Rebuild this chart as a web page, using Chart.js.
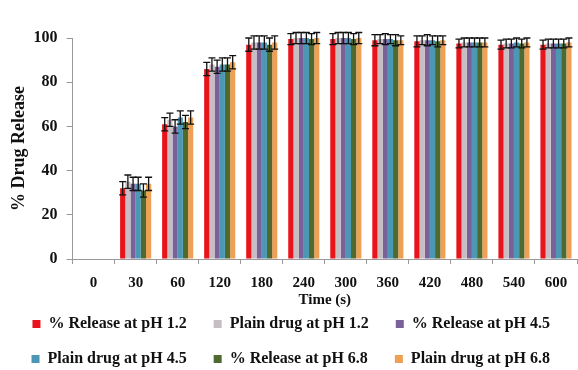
<!DOCTYPE html>
<html>
<head>
<meta charset="utf-8">
<script src="https://cdn.jsdelivr.net/npm/chart.js@4"></script>
<style>
  html, body { margin: 0; padding: 0; background: #fff; }
  #wrap { width: 578px; height: 370px; }
</style>
</head>
<body>
<div id="wrap"><canvas id="releaseChart"></canvas></div>
<script>
const categories = ['0', '30', '60', '120', '180', '240', '300', '360', '420', '480', '540', '600'];

const relPh12   = [0, 32, 61, 86, 97, 99.5, 99.5, 99, 98.5, 97.5, 97, 97];
const plainPh12 = [0, 35, 63, 88, 98, 100, 100, 99.5, 99, 98, 97.5, 97.5];
const relPh45   = [0, 34, 60, 87, 98, 100, 100, 99.5, 99, 98, 97.5, 97.5];
const plainPh45 = [0, 34, 64, 88, 98, 100, 100, 99.5, 99, 98, 98, 97.5];
const relPh68   = [0, 31, 62, 88, 97, 99.5, 99.5, 99, 98.5, 98, 97.5, 97.5];
const plainPh68 = [0, 34, 64, 89, 98, 100, 100, 99, 99, 98, 98, 98];

const errRel   = [0, 3, 3, 3, 3, 2.5, 2.5, 2.5, 2.5, 2, 2, 2];
const errPlain = [0, 3, 3, 3, 3, 2.5, 2.5, 2, 2, 2, 2, 2];

const yTicks = [0, 20, 40, 60, 80, 100];

const FONT = '"Liberation Serif", "Times New Roman", serif';

// draws the +/- error whiskers on top of each bar
const errorBars = {
  id: 'errorBars',
  afterDatasetsDraw(chart) {
    const ctx = chart.ctx;
    const y = chart.scales.y;
    ctx.save();
    ctx.strokeStyle = '#111';
    ctx.lineWidth = 1.3;
    chart.data.datasets.forEach((ds, i) => {
      const meta = chart.getDatasetMeta(i);
      meta.data.forEach((bar, j) => {
        const v = ds.data[j];
        const e = ds.errors[j];
        if (!e) return;
        const top = y.getPixelForValue(v + e);
        const bot = y.getPixelForValue(v - e);
        ctx.beginPath();
        ctx.moveTo(bar.x, top);
        ctx.lineTo(bar.x, bot);
        ctx.moveTo(bar.x - 3.5, top);
        ctx.lineTo(bar.x + 3.5, top);
        ctx.moveTo(bar.x - 3.5, bot);
        ctx.lineTo(bar.x + 3.5, bot);
        ctx.stroke();
      });
    });
    ctx.restore();
  }
};

function ds(label, data, errors, color) {
  return {
    label: label,
    data: data,
    errors: errors,
    backgroundColor: color,
    borderWidth: 0,
    barPercentage: 1,
    categoryPercentage: 0.74
  };
}

new Chart(document.getElementById('releaseChart'), {
  type: 'bar',
  data: {
    labels: categories,
    datasets: [
      ds('% Release at pH 1.2', relPh12, errRel, '#E8131B'),
      ds('Plain drug at pH 1.2', plainPh12, errPlain, '#C6BEC3'),
      ds('% Release at pH 4.5', relPh45, errRel, '#7A6199'),
      ds('Plain drug at pH 4.5', plainPh45, errPlain, '#4B97B4'),
      ds('% Release at pH 6.8', relPh68, errRel, '#4E6A2F'),
      ds('Plain drug at pH 6.8', plainPh68, errPlain, '#EEA055')
    ]
  },
  options: {
    responsive: true,
    maintainAspectRatio: false,
    animation: false,
    layout: { padding: { top: 38, right: 1, left: 0, bottom: -7 } },
    plugins: {
      legend: {
        position: 'bottom',
        align: 'end',
        labels: {
          boxWidth: 8,
          boxHeight: 8,
          padding: 19,
          color: '#111',
          font: { family: FONT, size: 16, weight: 'bold' },
          // widen the gap between legend columns a little
          generateLabels: chart => Chart.defaults.plugins.legend.labels.generateLabels(chart)
            .map(item => Object.assign(item, { text: item.text + '  ' }))
        }
      },
      tooltip: { enabled: false }
    },
    scales: {
      x: {
        grid: { display: true, drawOnChartArea: false, color: '#999', tickLength: 5 },
        border: { color: '#999' },
        ticks: { color: '#111', font: { family: FONT, size: 15, weight: 'bold' }, padding: 10 },
        title: {
          display: true,
          text: 'Time (s)',
          color: '#111',
          padding: { top: -11, bottom: -12 },
          font: { family: FONT, size: 15, weight: 'bold' }
        }
      },
      y: {
        min: 0,
        max: 100,
        afterBuildTicks: axis => { axis.ticks = yTicks.map(v => ({ value: v })); },
        grid: { display: true, drawOnChartArea: false, color: '#999', tickLength: 6 },
        border: { color: '#999' },
        ticks: { color: '#111', font: { family: FONT, size: 16, weight: 'bold' }, padding: 9 },
        title: {
          display: true,
          text: '% Drug Release',
          color: '#111',
          padding: { top: 9, bottom: -6 },
          font: { family: FONT, size: 18, weight: 'bold' }
        }
      }
    }
  },
  plugins: [errorBars]
});
</script>
</body>
</html>
